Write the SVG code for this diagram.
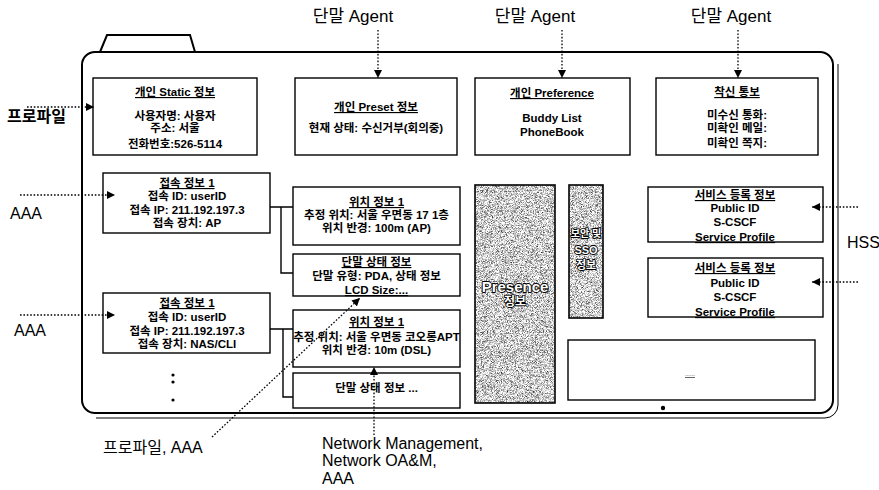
<svg xmlns="http://www.w3.org/2000/svg" width="879" height="490" viewBox="0 0 879 490">
  <style>
    .box { fill: #fff; stroke: #000; stroke-width: 1.4; }
    .frame { fill: none; stroke: #000; stroke-width: 2; }
    .thin { fill: none; stroke: #000; stroke-width: 1; }
    .wire { fill: none; stroke: #000; stroke-width: 1.4; }
    .dot { fill: none; stroke: #000; stroke-width: 1.3; stroke-dasharray: 1.6 1.8; }
    .bt { font-family: "Liberation Sans", "Noto Sans CJK KR", sans-serif; font-size: 11.5px; font-weight: bold; text-anchor: middle; fill: #000; }
    .ul { text-decoration: underline; }
    .lbl { font-family: "Liberation Sans", "Noto Sans CJK KR", sans-serif; font-size: 17px; fill: #000; }
    .lbs { font-family: "Liberation Sans", "Noto Sans CJK KR", sans-serif; font-size: 16px; fill: #000; }
    .shade-t { font-family: "Liberation Sans", "Noto Sans CJK KR", sans-serif; font-weight: bold; text-anchor: middle; fill: #fff; stroke: #000; stroke-width: 1.8; paint-order: stroke; stroke-linejoin: round; }
  </style>
  <defs>
    <marker id="ah" viewBox="0 0 10 10" refX="10" refY="5" markerWidth="8" markerHeight="8" markerUnits="userSpaceOnUse" orient="auto">
      <path d="M0,0 L10,5 L0,10 Z" fill="#000"/>
    </marker>
    <!-- fine speckled halftone fill -->
    <filter id="grain" x="0%" y="0%" width="100%" height="100%" color-interpolation-filters="sRGB">
      <feTurbulence type="fractalNoise" baseFrequency="1.8" numOctaves="1" seed="7" result="n"/>
      <feColorMatrix in="n" type="matrix" values="2 0 0 0 -0.2  2 0 0 0 -0.2  2 0 0 0 -0.2  0 0 0 0 1" result="g"/>
      <feComposite in="g" in2="SourceGraphic" operator="in"/>
    </filter>
  </defs>

  <rect width="879" height="490" fill="#fff"/>

  <!-- folder outline -->
  <g id="folder">
    <path class="frame" d="M100,52 L107,35 L190,35 L195,52"/>
    <rect class="frame" x="82" y="52" width="751" height="361" rx="13"/>
    <path class="thin" d="M838,64 V405 A13,13 0 0 1 825,418 H96"/>
    <circle cx="173" cy="375" r="1.6"/>
    <circle cx="173" cy="382" r="1.6"/>
    <circle cx="173" cy="400" r="1.6"/>
    <circle cx="663" cy="408" r="2.2"/>
  </g>

  <!-- top row -->
  <g id="static-info">
    <rect class="box" x="93" y="78" width="164" height="77"/>
    <text class="bt ul" x="175" y="96">개인 Static 정보</text>
    <text class="bt" x="175" y="120">사용자명: 사용자</text>
    <text class="bt" x="175" y="132">주소: 서울</text>
    <text class="bt" x="175" y="148">전화번호:526-5114</text>
  </g>
  <g id="preset-info">
    <rect class="box" x="295" y="78" width="162" height="77"/>
    <text class="bt ul" x="376" y="111">개인 Preset 정보</text>
    <text class="bt" x="376" y="132">현재 상태: 수신거부(회의중)</text>
  </g>
  <g id="preference">
    <rect class="box" x="475" y="78" width="155" height="77"/>
    <text class="bt ul" x="552" y="97">개인 Preference</text>
    <text class="bt" x="552" y="122">Buddy List</text>
    <text class="bt" x="552" y="136">PhoneBook</text>
  </g>
  <g id="notify">
    <rect class="box" x="656" y="78" width="162" height="77"/>
    <text class="bt ul" x="737" y="96">착신 통보</text>
    <text class="bt" x="737" y="119">미수신 통화:</text>
    <text class="bt" x="737" y="132">미확인 메일:</text>
    <text class="bt" x="737" y="147">미확인 쪽지:</text>
  </g>

  <!-- access info -->
  <g id="access-1">
    <rect class="box" x="103" y="173" width="167" height="60"/>
    <text class="bt ul" x="187" y="187">접속 정보 1</text>
    <text class="bt" x="187" y="200">접속 ID: userID</text>
    <text class="bt" x="187" y="214">접속 IP: 211.192.197.3</text>
    <text class="bt" x="187" y="227">접속 장치: AP</text>
  </g>
  <g id="access-2">
    <rect class="box" x="103" y="293" width="167" height="60"/>
    <text class="bt ul" x="187" y="307">접속 정보 1</text>
    <text class="bt" x="187" y="321">접속 ID: userID</text>
    <text class="bt" x="187" y="335">접속 IP: 211.192.197.3</text>
    <text class="bt" x="187" y="348">접속 장치: NAS/CLI</text>
  </g>

  <g id="location-1">
    <rect class="box" x="293" y="187" width="167" height="58"/>
    <text class="bt ul" x="376.5" y="206">위치 정보 1</text>
    <text class="bt" x="376.5" y="219">추정 위치: 서울 우면동 17 1층</text>
    <text class="bt" x="376.5" y="232">위치 반경: 100m (AP)</text>
  </g>
  <g id="terminal-1">
    <rect class="box" x="293" y="254" width="167" height="42"/>
    <text class="bt ul" x="376.5" y="266">단말 상태 정보</text>
    <text class="bt" x="376.5" y="280">단말 유형: PDA, 상태 정보</text>
    <text class="bt ul" x="376.5" y="294">LCD Size:...</text>
  </g>
  <g id="location-2">
    <rect class="box" x="293" y="310" width="167" height="57"/>
    <text class="bt ul" x="376.5" y="326">위치 정보 1</text>
    <text class="bt" x="376.5" y="341">추정 위치: 서울 우면동 코오롱APT</text>
    <text class="bt" x="376.5" y="354">위치 반경: 10m (DSL)</text>
  </g>
  <g id="terminal-2">
    <rect class="box" x="293" y="373" width="167" height="35"/>
    <text class="bt" x="376.5" y="392">단말 상태 정보 ...</text>
  </g>

  <!-- shaded stores -->
  <g id="presence">
    <rect x="475" y="185" width="80" height="218" fill="#999" filter="url(#grain)"/>
    <rect x="475" y="185" width="80" height="218" fill="none" stroke="#000" stroke-width="1.6"/>
    <text class="shade-t" x="515" y="292" font-size="15">Presence</text>
    <text class="shade-t" x="515" y="306" font-size="12">정보</text>
  </g>
  <g id="security-sso">
    <rect x="569" y="185" width="34" height="133" fill="#999" filter="url(#grain)"/>
    <rect x="569" y="185" width="34" height="133" fill="none" stroke="#000" stroke-width="1.6"/>
    <text class="shade-t" x="586" y="237" font-size="10">보안 및</text>
    <text class="shade-t" x="586" y="254" font-size="11">SSO</text>
    <text class="shade-t" x="586" y="269" font-size="11">정보</text>
  </g>

  <!-- service registration -->
  <g id="service-1">
    <rect class="box" x="648" y="187" width="175" height="55"/>
    <text class="bt ul" x="735" y="199">서비스 등록 정보</text>
    <text class="bt" x="735" y="212">Public ID</text>
    <text class="bt" x="735" y="226">S-CSCF</text>
    <text class="bt ul" x="735" y="241">Service Profile</text>
  </g>
  <g id="service-2">
    <rect class="box" x="648" y="258" width="175" height="59"/>
    <text class="bt ul" x="735" y="272">서비스 등록 정보</text>
    <text class="bt" x="735" y="287">Public ID</text>
    <text class="bt" x="735" y="301">S-CSCF</text>
    <text class="bt ul" x="735" y="316">Service Profile</text>
  </g>
  <g id="reserved">
    <rect class="box" x="568" y="340" width="247" height="60"/>
    <text x="690" y="376" font-family="Liberation Sans, sans-serif" font-size="6" text-anchor="middle" text-decoration="underline">......</text>
  </g>

  <!-- external sources -->
  <g id="labels">
    <text class="lbl" x="353" y="22" text-anchor="middle">단말 Agent</text>
    <text class="lbl" x="535" y="22" text-anchor="middle">단말 Agent</text>
    <text class="lbl" x="731" y="22" text-anchor="middle">단말 Agent</text>
    <text class="lbs" x="7" y="122" font-weight="bold" font-size="15">프로파일</text>
    <text class="lbs" x="10" y="219">AAA</text>
    <text class="lbs" x="14" y="336">AAA</text>
    <text class="lbs" x="847" y="248">HSS</text>
    <text class="lbs" x="103" y="453">프로파일, AAA</text>
    <text class="lbs" x="322" y="449" font-size="15.5">Network Management,</text>
    <text class="lbs" x="322" y="466.3" font-size="15.5">Network OA&amp;M,</text>
    <text class="lbs" x="322" y="483.6" font-size="15.5">AAA</text>
  </g>

  <g id="connectors">
    <path class="wire" d="M270,207 H293 M281,207 V273 H293"/>
    <path class="wire" d="M270,329 H293 M283,329 V397 H293"/>
    <path class="dot" d="M378,30 V78" marker-end="url(#ah)"/>
    <path class="dot" d="M562,30 V78" marker-end="url(#ah)"/>
    <path class="dot" d="M738,30 V78" marker-end="url(#ah)"/>
    <path class="dot" d="M27,107 H94" marker-end="url(#ah)"/>
    <path class="dot" d="M20,195 H115" marker-end="url(#ah)"/>
    <path class="dot" d="M20,315 H115" marker-end="url(#ah)"/>
    <path class="dot" d="M858,207 H812" marker-end="url(#ah)"/>
    <path class="dot" d="M858,282 H812" marker-end="url(#ah)"/>
    <path class="dot" d="M212,437 L360,298" marker-end="url(#ah)"/>
    <path class="dot" d="M374,435 V367" marker-end="url(#ah)"/>
  </g>
</svg>
